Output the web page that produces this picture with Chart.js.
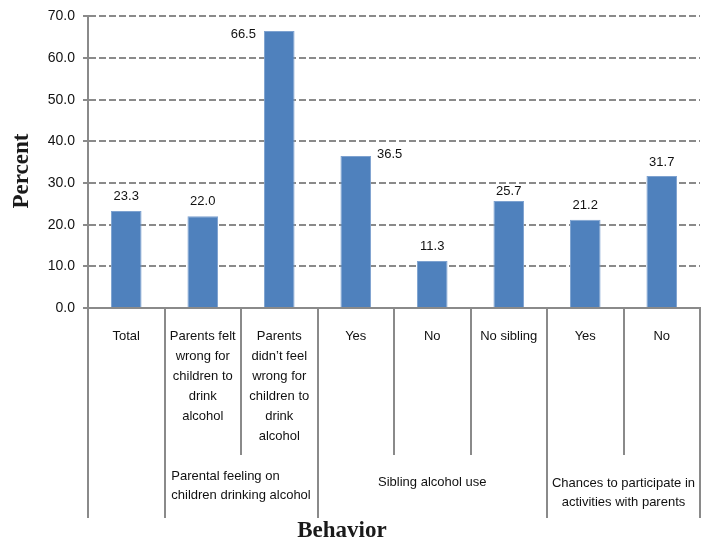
<!DOCTYPE html>
<html><head><meta charset="utf-8">
<script src="https://cdn.jsdelivr.net/npm/chart.js@4/dist/chart.umd.min.js"></script>
<style>html,body{margin:0;padding:0;background:#fff;}canvas{display:block;}</style>
</head><body>
<canvas id="c" width="705" height="542"></canvas>
<script>
// ---- data ----
const categories = [
  ["Total"],
  ["Parents felt", "wrong for", "children to", "drink", "alcohol"],
  ["Parents", "didn’t feel", "wrong for", "children to", "drink", "alcohol"],
  ["Yes"],
  ["No"],
  ["No sibling"],
  ["Yes"],
  ["No"]
];
const percentValues = [23.3, 22.0, 66.5, 36.5, 11.3, 25.7, 21.2, 31.7];
const groupLabels = [
  [],
  ["Parental feeling on", "children drinking alcohol"],
  ["Sibling alcohol use"],
  ["Chances to participate in", "activities with parents"]
];
const groupSizes = [1, 2, 3, 2];
const yMin = 0, yMax = 70, yStep = 10;
const yAxisTitle = "Percent";
const xAxisTitle = "Behavior";

// ---- styles ----
const GRAY = '#8a8a8a';
const LABEL_FONT = '13px "Liberation Sans", Arial, sans-serif';
const TITLE_FONT = 'bold 23px "Liberation Serif", "Times New Roman", serif';

const valueLabelPlugin = {
  id: 'valueLabels',
  afterDatasetsDraw(chart, args, opts) {
    const ctx = chart.ctx;
    const meta = chart.getDatasetMeta(0);
    ctx.save();
    ctx.font = LABEL_FONT;
    ctx.fillStyle = '#111';
    ctx.textBaseline = 'middle';
    meta.data.forEach((bar, i) => {
      const p = opts.placement[i] || {side: 'top', dy: -15};
      const txt = percentValues[i].toFixed(1);
      const half = bar.width / 2;
      if (p.side === 'left') {
        ctx.textAlign = 'right';
        ctx.fillText(txt, bar.x - half - 8, bar.y + p.dy);
      } else if (p.side === 'right') {
        ctx.textAlign = 'left';
        ctx.fillText(txt, bar.x + half + 6, bar.y + p.dy);
      } else {
        ctx.textAlign = 'center';
        ctx.fillText(txt, bar.x, bar.y + p.dy);
      }
    });
    ctx.restore();
  }
};

const multiLevelAxisPlugin = {
  id: 'multiLevelAxis',
  afterDraw(chart, args, opts) {
    const ctx = chart.ctx;
    const xs = chart.scales.x;
    const area = chart.chartArea;
    const step = xs.getPixelForValue(1) - xs.getPixelForValue(0);
    const boundary = i => xs.getPixelForValue(0) - step / 2 + i * step;
    const base = area.bottom;
    const innerBottom = base + opts.level1Depth;
    const outerBottom = base + opts.level2Depth;

    const groupEdges = new Set([0]);
    let acc = 0;
    groupSizes.forEach(s => { acc += s; groupEdges.add(acc); });

    ctx.save();
    ctx.strokeStyle = GRAY;
    ctx.lineWidth = 2;
    for (let i = 0; i <= categories.length; i++) {
      const x = Math.round(boundary(i));
      ctx.beginPath();
      ctx.moveTo(x, base);
      ctx.lineTo(x, groupEdges.has(i) ? outerBottom : innerBottom);
      ctx.stroke();
    }

    // level-1 labels
    ctx.font = LABEL_FONT;
    ctx.fillStyle = '#111';
    ctx.textAlign = 'center';
    ctx.textBaseline = 'middle';
    categories.forEach((lines, i) => {
      const cx = xs.getPixelForValue(i);
      lines.forEach((ln, k) => ctx.fillText(ln, cx, base + opts.level1First + k * opts.level1Line));
    });

    // level-2 labels
    let start = 0;
    groupSizes.forEach((s, g) => {
      const cx = (boundary(start) + boundary(start + s)) / 2;
      const lines = groupLabels[g];
      const maxW = Math.max(0, ...lines.map(l => ctx.measureText(l).width));
      const leftAlign = opts.level2LeftAlign[g];
      const y0 = base + opts.level2First + opts.level2Shift[g];
      ctx.textAlign = 'left';
      lines.forEach((ln, k) => {
        const w = ctx.measureText(ln).width;
        const x = leftAlign ? cx - maxW / 2 : cx - w / 2;
        ctx.fillText(ln, x, y0 + k * opts.level2Line);
      });
      start += s;
    });

    // axis titles
    ctx.font = TITLE_FONT;
    ctx.fillStyle = '#1a1a1a';
    ctx.textAlign = 'center';
    ctx.fillText(xAxisTitle, opts.xTitleX, opts.xTitleY);
    ctx.translate(opts.yTitleX, opts.yTitleY);
    ctx.rotate(-Math.PI / 2);
    ctx.fillText(yAxisTitle, 0, 0);
    ctx.restore();
  }
};

new Chart(document.getElementById('c'), {
  type: 'bar',
  data: {
    labels: categories.map(c => c.join(' ')),
    datasets: [{
      data: percentValues,
      backgroundColor: '#4F81BD',
      borderColor: '#7ea2d0',
      borderWidth: 1,
      barPercentage: 0.4,
      categoryPercentage: 1.0
    }]
  },
  options: {
    responsive: false,
    devicePixelRatio: 1,
    animation: false,
    layout: {padding: {top: 15, right: 5, left: 0, bottom: 0}},
    plugins: {
      legend: {display: false},
      tooltip: {enabled: false},
      valueLabels: {
        placement: [
          {side: 'top', dy: -15},
          {side: 'top', dy: -15},
          {side: 'left', dy: 3},
          {side: 'right', dy: -2},
          {side: 'top', dy: -15},
          {side: 'top', dy: -10},
          {side: 'top', dy: -14},
          {side: 'top', dy: -14}
        ]
      },
      multiLevelAxis: {
        level1Depth: 147, level2Depth: 210,
        level1First: 28, level1Line: 20,
        level2First: 174, level2Line: 19,
        level2Shift: [0, -6, 0, 1],
        level2LeftAlign: [false, true, false, false],
        xTitleX: 342, xTitleY: 531,
        yTitleX: 22, yTitleY: 171
      }
    },
    scales: {
      x: {
        grid: {display: false, drawTicks: false},
        ticks: {display: false},
        border: {display: true, color: GRAY, width: 2},
        afterFit: s => { s.height = 234; }
      },
      y: {
        min: yMin, max: yMax,
        ticks: {
          stepSize: yStep,
          callback: v => Number(v).toFixed(1),
          font: {family: '"Liberation Sans", Arial, sans-serif', size: 14},
          color: '#111',
          padding: 8
        },
        grid: {color: GRAY, lineWidth: 2, tickLength: 5, tickColor: GRAY, tickWidth: 2},
        border: {display: true, color: GRAY, width: 2, dash: [7, 3]},
        afterFit: s => { s.width = 88; }
      }
    }
  },
  plugins: [valueLabelPlugin, multiLevelAxisPlugin]
});
</script>
</body></html>
